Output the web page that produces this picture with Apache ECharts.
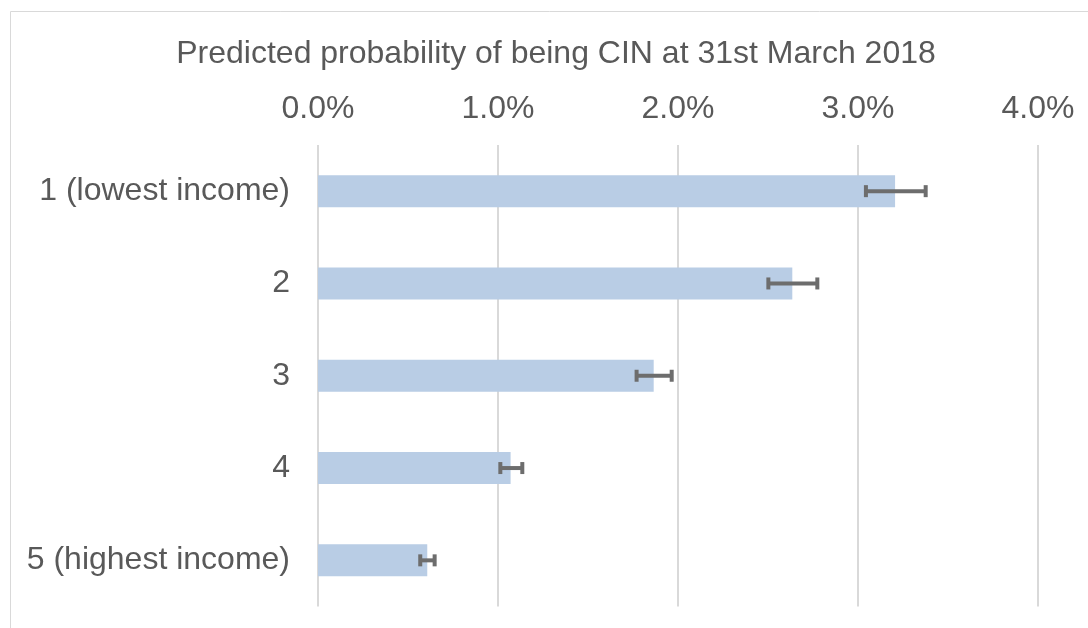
<!DOCTYPE html>
<html>
<head>
<meta charset="utf-8">
<script src="https://cdn.jsdelivr.net/npm/echarts@6/dist/echarts.min.js"></script>
<style>
html,body{margin:0;padding:0;background:#fff;}
#chart{width:1088px;height:628px;}
</style>
</head>
<body>
<div id="chart"></div>
<script>
const categories = ['1 (lowest income)', '2', '3', '4', '5 (highest income)'];
const values = [3.206, 2.635, 1.865, 1.070, 0.607];
const errLow = [3.044, 2.502, 1.770, 1.013, 0.568];
const errHigh = [3.376, 2.774, 1.965, 1.135, 0.648];
const tickLabelsDecimals = 1;

const chart = echarts.init(document.getElementById('chart'));
const font = '"Liberation Sans", Arial, sans-serif';
const textColor = '#595959';

const errData = categories.map((c, i) => [i, errLow[i], errHigh[i]]);

chart.setOption({
  animation: false,
  title: {
    text: 'Predicted probability of being CIN at 31st March 2018',
    left: 556, textAlign: 'center', top: 33,
    textStyle: { fontFamily: font, fontSize: 32, fontWeight: 'normal', color: textColor }
  },
  graphic: [{
    type: 'rect', shape: { x: 10.5, y: 11.5, width: 1200, height: 700 },
    style: { fill: 'none', stroke: '#d9d9d9', lineWidth: 1 }, silent: true, z: -1
  }],
  grid: { left: 318, right: 50, top: 145, bottom: 21.5 },
  xAxis: {
    type: 'value', position: 'top', min: 0, max: 4, interval: 1,
    axisLine: { show: false }, axisTick: { show: false },
    axisLabel: {
      fontFamily: font, fontSize: 32, color: textColor, margin: 20,
      formatter: v => v.toFixed(tickLabelsDecimals) + '%'
    },
    splitLine: { lineStyle: { color: '#d9d9d9', width: 2 } }
  },
  yAxis: {
    type: 'category', data: categories, inverse: true,
    axisLine: { show: false }, axisTick: { show: false },
    axisLabel: { fontFamily: font, fontSize: 32, color: textColor, margin: 28 }
  },
  series: [{
    type: 'bar', data: values, barWidth: 32,
    itemStyle: { color: '#b9cde5' }, z: 2
  }, {
    type: 'custom', data: errData, z: 3,
    renderItem: function (params, api) {
      const y = api.value(0);
      const lo = api.coord([api.value(1), y]);
      const hi = api.coord([api.value(2), y]);
      const h = 6;
      const st = { stroke: '#6d6d6d', lineWidth: 4 };
      return { type: 'group', children: [
        { type: 'line', shape: { x1: lo[0], y1: lo[1], x2: hi[0], y2: hi[1] }, style: st },
        { type: 'line', shape: { x1: lo[0], y1: lo[1] - h, x2: lo[0], y2: lo[1] + h }, style: st },
        { type: 'line', shape: { x1: hi[0], y1: hi[1] - h, x2: hi[0], y2: hi[1] + h }, style: st }
      ]};
    }
  }]
});
chart.setOption({ title: { left: 551 } });
</script>
</body>
</html>
